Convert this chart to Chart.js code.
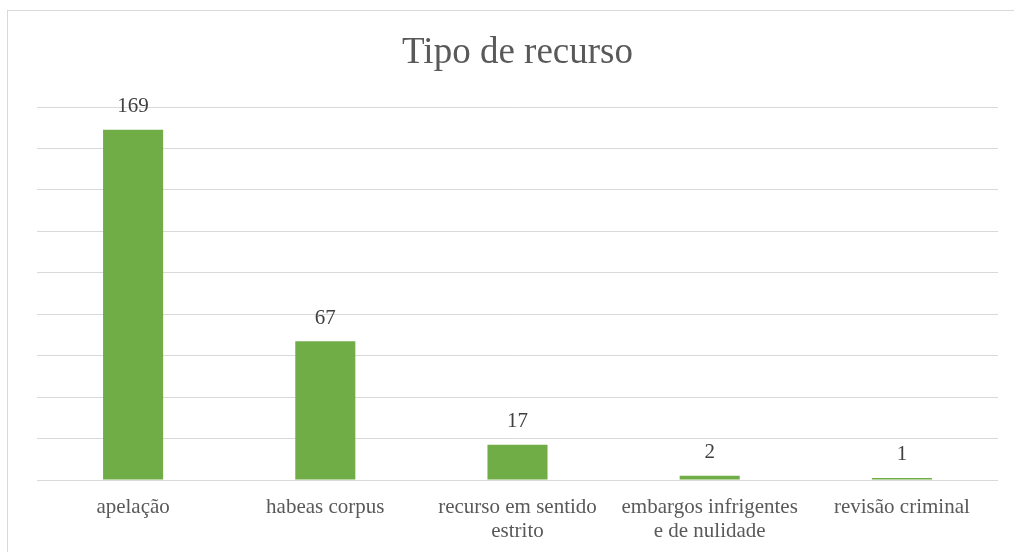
<!DOCTYPE html>
<html>
<head>
<meta charset="utf-8">
<script src="https://cdn.jsdelivr.net/npm/chart.js@4"></script>
<style>
  html, body { margin: 0; padding: 0; background: #fff; }
  #wrap { position: relative; width: 1014px; height: 552px; overflow: hidden; }
  #frame { position: absolute; left: 7px; top: 10px; width: 1100px; height: 600px; border: 1px solid #d9d9d9; box-sizing: border-box; }
  #grafico { position: absolute; left: 0; top: 0; }
</style>
</head>
<body>
<div id="wrap">
  <div id="frame"></div>
  <canvas id="grafico" width="1014" height="552"></canvas>
</div>
<script>
let categorias = [
    'apelação',
    'habeas corpus',
    ['recurso em sentido', 'estrito'],
    ['embargos infrigentes', 'e de nulidade'],
    'revisão criminal'
];
let valores = [169, 67, 17, 2, 1];

const fonte = "'Liberation Serif', 'Times New Roman', serif";

// etiquetas encima de cada barra
const etiquetas = {
    id: 'etiquetas',
    afterDatasetsDraw(chart) {
        const ctx = chart.ctx;
        const meta = chart.getDatasetMeta(0);
        ctx.save();
        ctx.font = '21px ' + fonte;
        ctx.fillStyle = '#404040';
        ctx.textAlign = 'center';
        ctx.textBaseline = 'middle';
        meta.data.forEach((barra, i) => {
            ctx.fillText(valores[i].toString(), barra.x, barra.y - 23);
        });
        ctx.restore();
    }
};

const data = {
    labels: categorias,
    datasets: [{
        label: 'Tipo de recurso',
        data: valores,
        backgroundColor: '#70AD47',
        borderWidth: 0,
        barPercentage: 0.3125,
        categoryPercentage: 1
    }]
};

const config = {
    type: 'bar',
    data: data,
    options: {
        responsive: false,
        animation: false,
        layout: {
            padding: { left: 37, right: 16, top: 0, bottom: 0 }
        },
        plugins: {
            legend: { display: false },
            tooltip: { enabled: false },
            title: {
                display: true,
                text: 'Tipo de recurso',
                color: '#595959',
                font: { family: fonte, size: 37, weight: 'normal', lineHeight: 1.2 },
                padding: { top: 31, bottom: 31.6 }
            }
        },
        scales: {
            x: {
                grid: { display: false },
                border: { display: false },
                ticks: {
                    color: '#595959',
                    font: { family: fonte, size: 21, lineHeight: 1.12 },
                    maxRotation: 0,
                    autoSkip: false,
                    padding: 8
                },
                afterFit(s) { s.height = 72; }
            },
            y: {
                min: 0,
                max: 180,
                ticks: { display: false, stepSize: 20 },
                grid: { color: '#d9d9d9', lineWidth: 1, drawTicks: false },
                border: { display: false },
                afterFit(s) { s.width = 0; }
            }
        }
    },
    plugins: [etiquetas]
};

const grafico = new Chart(document.getElementById('grafico'), config);
</script>
</body>
</html>
